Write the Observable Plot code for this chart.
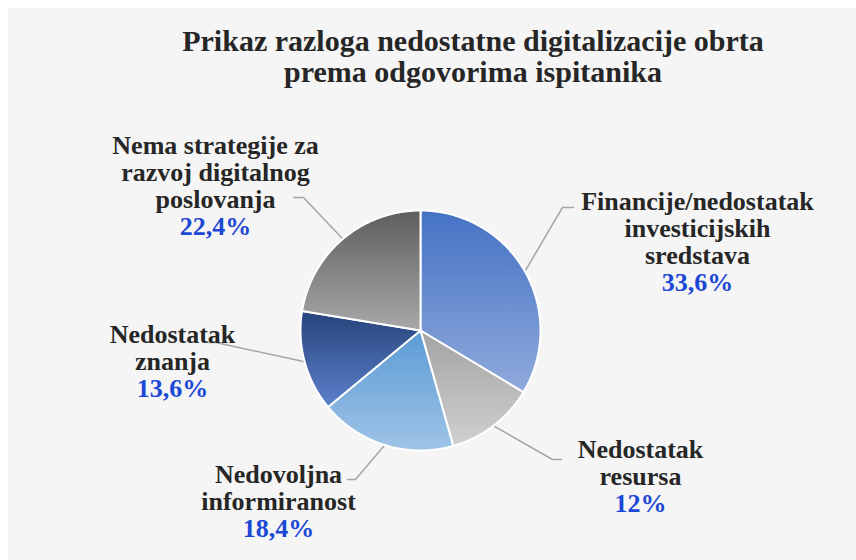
<!DOCTYPE html>
<html><head><meta charset="utf-8">
<script src="https://cdn.jsdelivr.net/npm/d3@7"></script>
<script src="https://cdn.jsdelivr.net/npm/@observablehq/plot@0.6"></script>
<style>
body{margin:0;background:#fff;}
#wrap{position:relative;width:856px;height:560px;overflow:hidden;background:#fff;}
#bg{position:absolute;left:8px;top:8px;right:0;bottom:0;background:#f5f5f5;}
#chart{position:absolute;left:0;top:0;}
#title{position:absolute;left:73px;width:800px;top:25px;text-align:center;font-family:"Liberation Serif",serif;font-weight:bold;font-size:30px;line-height:31px;color:#262626;}
</style></head><body>
<div id="wrap"><div id="bg"></div><div id="chart"></div>
<div id="title">Prikaz razloga nedostatne digitalizacije obrta<br>prema odgovorima ispitanika</div></div>
<script>
// ---- data ----
const categories = [
  "Financije/nedostatak investicijskih sredstava",
  "Nedostatak resursa",
  "Nedovoljna informiranost",
  "Nedostatak znanja",
  "Nema strategije za razvoj digitalnog poslovanja"
];
const labelLines = [
  ["Financije/nedostatak", "investicijskih", "sredstava"],
  ["Nedostatak", "resursa"],
  ["Nedovoljna", "informiranost"],
  ["Nedostatak", "znanja"],
  ["Nema strategije za", "razvoj digitalnog", "poslovanja"]
];
const values = [33.6, 12, 18.4, 13.6, 22.4];

// ---- styles ----
const gradTop    = ["#4472c4", "#a3a3a3", "#5b9bd5", "#26447a", "#5e5e5e"];
const gradBottom = ["#90aadc", "#d0d0d0", "#a0c4e7", "#5c80cc", "#a8a8a8"];

// ---- layout (in pie-radius units, y up, pie centre at 0,0) ----
const labelX   = [2.308, 1.833, -1.183, -2.067, -1.708];
const pctY     = [0.40, -1.442, -1.65, -0.483, 0.867];
const elbow    = [[1.183, 1.025], [1.10, -1.075], [-0.542, -1.242], [-1.708, -0.10], [-0.975, 1.108]];
const leaderEndX = [1.275, 1.175, -0.608, -1.775, -1.058];
const lineStep = 27 / 120;

const fmt = v => String(v).replace(".", ",") + "%";

const arcs = d3.pie().sort(null).value(d => d)(values);

// slice polygons
const slices = arcs.map((a, k) => {
  const pts = [{k, x: 0, y: 0}];
  const n = Math.max(8, Math.ceil((a.endAngle - a.startAngle) / (Math.PI / 360)));
  for (let i = 0; i <= n; i++) {
    const t = a.startAngle + (a.endAngle - a.startAngle) * i / n;
    pts.push({k, x: Math.sin(t), y: Math.cos(t)});
  }
  pts.push({k, x: 0, y: 0});
  return pts;
});

// leader lines
const leaders = arcs.flatMap((a, k) => {
  const m = (a.startAngle + a.endAngle) / 2;
  return [
    {k, x: Math.sin(m), y: Math.cos(m)},
    {k, x: elbow[k][0], y: elbow[k][1]},
    {k, x: leaderEndX[k], y: elbow[k][1]}
  ];
});

// label text lines
const nameRows = labelLines.flatMap((lines, k) =>
  lines.map((t, i) => ({k, text: t, x: labelX[k], y: pctY[k] + (lines.length - i) * lineStep})));
const pctRows = values.map((v, k) => ({k, text: fmt(v), x: labelX[k], y: pctY[k]}));

const font = {fontFamily: "Liberation Serif, serif", fontWeight: "bold", fontSize: 26, textAnchor: "middle", lineAnchor: "middle"};

const plot = Plot.plot({
  width: 856,
  height: 560,
  margin: 0,
  style: {background: "transparent", overflow: "visible"},
  x: {domain: [-3.5, 436 / 120], axis: null},
  y: {domain: [-230 / 120, 330 / 120], axis: null},
  marks: [
    Plot.line(leaders, {x: "x", y: "y", z: "k", stroke: "#a6a6a6", strokeWidth: 1.5, curve: "linear"}),
    ...slices.map((s, k) => Plot.line(s, {x: "x", y: "y", fill: `url(#slice-grad-${k})`, stroke: "#ffffff", strokeWidth: 2, strokeLinejoin: "round"})),
    Plot.text(nameRows, {x: "x", y: "y", text: "text", fill: "#262626", ...font}),
    Plot.text(pctRows, {x: "x", y: "y", text: "text", fill: "#1b48d4", ...font})
  ]
});

const defs = d3.select(plot).insert("defs", ":first-child");
values.forEach((v, k) => {
  const g = defs.append("linearGradient").attr("id", `slice-grad-${k}`)
    .attr("x1", 0).attr("y1", 0).attr("x2", 0).attr("y2", 1);
  g.append("stop").attr("offset", "0%").attr("stop-color", gradTop[k]);
  g.append("stop").attr("offset", "100%").attr("stop-color", gradBottom[k]);
});

document.getElementById("chart").appendChild(plot);
</script>
</body></html>
